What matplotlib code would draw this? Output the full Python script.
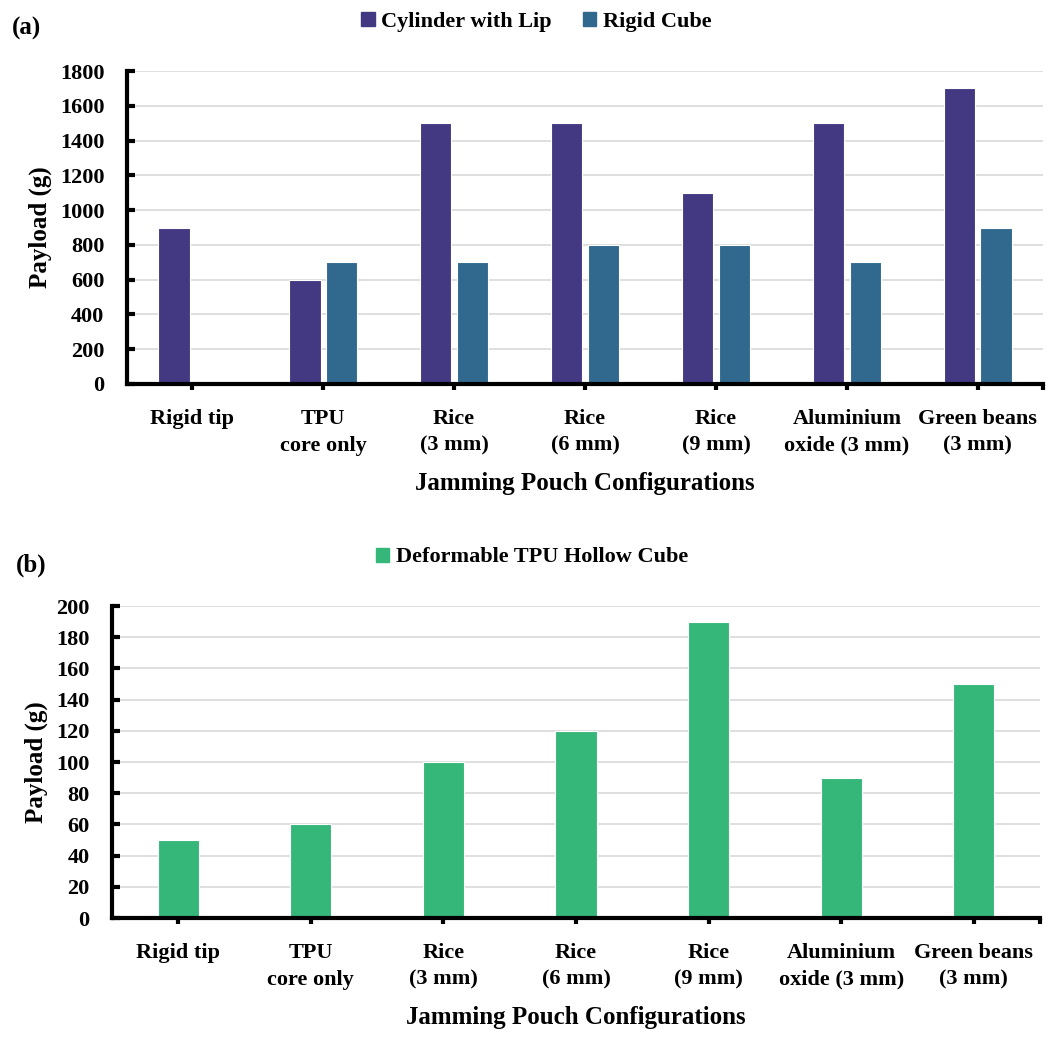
import numpy as np
from matplotlib import pyplot as plt
from matplotlib.patches import Patch

categories = ['Rigid tip', 'TPU\ncore only', 'Rice\n(3 mm)', 'Rice\n(6 mm)',
              'Rice\n(9 mm)', 'Aluminium\noxide (3 mm)', 'Green beans\n(3 mm)']
cylinder_lip = [900, 600, 1500, 1500, 1100, 1500, 1700]
rigid_cube = [0, 700, 700, 800, 800, 700, 900]
hollow_cube = [50, 60, 100, 120, 190, 90, 150]

plt.rcParams['font.family'] = ['Liberation Serif', 'DejaVu Serif']
plt.rcParams['font.weight'] = 'bold'

fig = plt.figure(figsize=(10.56, 10.40), dpi=100)
ax1 = fig.add_axes([0.120, 0.6308, 0.868, 0.3009])
ax2 = fig.add_axes([0.106, 0.1173, 0.879, 0.3000])

x = np.arange(len(categories))


def style(ax, ymax, step):
    ax.set_xlim(-0.5, len(categories) - 0.5)
    ax.set_ylim(0, ymax)
    ax.set_yticks(np.arange(0, ymax + 1, step))
    ax.set_xticks(x)
    ax.set_xticks([len(categories) - 0.5], minor=True)
    ax.set_xticklabels(categories, fontsize=16, fontweight='bold', linespacing=1.45)
    ax.tick_params(axis='y', direction='in', length=6, width=3, labelsize=16, pad=16)
    ax.tick_params(axis='x', which='both', direction='out', length=4, width=3, pad=14)
    for lbl in ax.get_yticklabels():
        lbl.set_fontweight('bold')
    ax.spines['top'].set_visible(False)
    ax.spines['right'].set_visible(False)
    ax.spines['left'].set_linewidth(3)
    ax.spines['bottom'].set_linewidth(3)
    ax.grid(axis='y', color='#d9d9d9', linewidth=1.2)
    ax.set_axisbelow(True)
    ax.set_ylabel('Payload (g)', fontsize=18, fontweight='bold', labelpad=6)
    ax.set_xlabel('Jamming Pouch Configurations', fontsize=18, fontweight='bold', labelpad=12)


w = 0.24
ax1.bar(x - 0.14, cylinder_lip, width=w, color='#433983', edgecolor='white', linewidth=0.8)
ax1.bar(x + 0.14, rigid_cube, width=w, color='#30688e', edgecolor='white', linewidth=0.8)
style(ax1, 1800, 200)

ax2.bar(x, hollow_cube, width=0.31, color='#35b779', edgecolor='white', linewidth=0.8)
style(ax2, 200, 20)

fig.legend(handles=[Patch(color='#433983', label='Cylinder with Lip'),
                    Patch(color='#30688e', label='Rigid Cube')],
           loc='center', bbox_to_anchor=(0.508, 0.979), ncol=2, frameon=False,
           prop={'size': 16, 'weight': 'bold'}, handlelength=0.6, handleheight=0.6,
           handletextpad=0.3, columnspacing=1.4)
fig.legend(handles=[Patch(color='#35b779', label='Deformable TPU Hollow Cube')],
           loc='center', bbox_to_anchor=(0.504, 0.464), frameon=False,
           prop={'size': 16, 'weight': 'bold'}, handlelength=0.6, handleheight=0.6,
           handletextpad=0.3)

fig.text(0.011, 0.973, '(a)', fontsize=18, fontweight='bold', va='center')
fig.text(0.015, 0.456, '(b)', fontsize=18, fontweight='bold', va='center')

plt.savefig('out.png', dpi=100)
